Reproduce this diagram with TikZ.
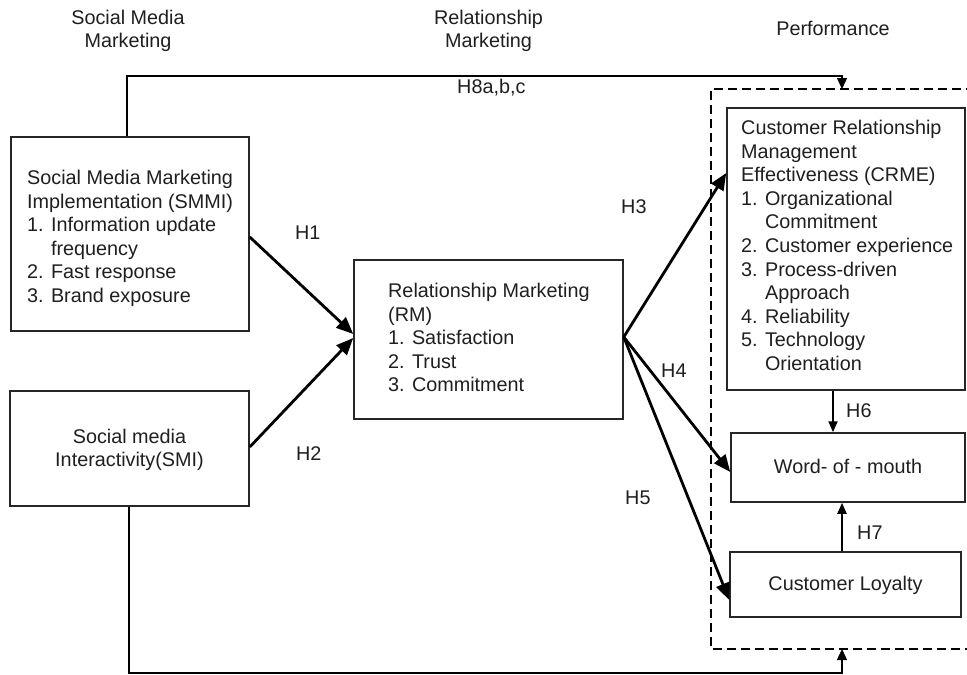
\documentclass[tikz,border=0pt]{standalone}
\usepackage{fontspec}
\setmainfont{Liberation Sans}
\usetikzlibrary{arrows.meta}
\begin{document}
\begin{tikzpicture}[x=1pt,y=-1pt,
  box/.style={draw=black!85,line width=1.5pt,rectangle,inner sep=0pt},
  txt/.style={inner sep=0pt,align=left,text=black!88,font=\fontsize{19.8}{23.6}\selectfont},
  lbl/.style={inner sep=0pt,text=black!88,font=\fontsize{19.8}{23.6}\selectfont},
  big/.style={line width=2.8pt,-{Triangle[length=17pt,width=14pt]}},
  mid/.style={line width=2pt,-{Triangle[length=11pt,width=9pt]}},
  thin/.style={line width=1.4pt},
  thinarr/.style={line width=1.4pt,-{Triangle[length=11pt,width=10pt]}},
  dashbox/.style={line width=2.4pt,dash pattern=on 9pt off 5pt}
]
\useasboundingbox (0,0) rectangle (967,675);
\fill[white] (0,0) rectangle (967,675);

% boxes
\node[box,minimum width=238pt,minimum height=194pt] (smmi) at (130,234) {};
\node[box,minimum width=239pt,minimum height=115pt] (smi) at (129.5,448.5) {};
\node[box,minimum width=269pt,minimum height=159pt] (rm) at (488.5,339.5) {};
\node[box,minimum width=238pt,minimum height=282pt] (crme) at (846,249) {};
\node[box,minimum width=234pt,minimum height=69pt] (wom) at (848,467.5) {};
\node[box,minimum width=231pt,minimum height=65pt] (cl) at (845.5,584.5) {};

% box texts
\node[txt,anchor=north west] (smmit) at (27,170) {Social Media Marketing\\Implementation (SMMI)\\1. Information update\\\phantom{1. }frequency\\2. Fast response\\3. Brand exposure};
\node[txt,align=center] (smit) at (129.5,450) {Social media\\Interactivity(SMI)};
\node[txt,anchor=north west] (rmt) at (388,283) {Relationship Marketing\\(RM)\\1. Satisfaction\\2. Trust\\3. Commitment};
\node[txt,anchor=north west] (crmet) at (741,120) {Customer Relationship\\Management\\Effectiveness (CRME)\\1. Organizational\\\phantom{1. }Commitment\\2. Customer experience\\3. Process-driven\\\phantom{3. }Approach\\4. Reliability\\5. Technology\\\phantom{5. }Orientation};
\node[lbl,anchor=base] (womt) at (848,473) {Word- of - mouth};
\node[lbl,anchor=base] (clt) at (845.5,590) {Customer Loyalty};

% headings
\node[txt,align=center] (h1t) at (128,31) {Social Media\\Marketing};
\node[txt,align=center] (h2t) at (488.5,31) {Relationship\\Marketing};
\node[lbl,anchor=base] (h3t) at (833,35) {Performance};

% dashed performance frame
\coordinate (dtop) at (842,89);
\coordinate (dbot) at (842,649);
\draw[dashbox] (975,89) -- (711,89) -- (711,649) -- (975,649);

% hypotheses arrows
\coordinate (rmout) at ([yshift=2.5pt]rm.east);
\draw[big] ([yshift=-3pt]smmi.east) -- ([yshift=5.5pt]rm.west);
\draw[big] ([yshift=1.5pt]smi.east) -- ([yshift=1.5pt]rm.west);
\draw[big] (rmout) -- ([yshift=76pt]crme.west);
\draw[big] (rmout) -- ([yshift=-4.5pt]wom.west);
\draw[big] (rmout) -- ([yshift=-15.5pt]cl.west);
\draw[mid] ([xshift=-13pt]crme.south) -- ([xshift=-13pt]crme.south |- wom.north);
\draw[mid] ([xshift=-3.5pt]cl.north) -- ([xshift=-3.5pt]cl.north |- wom.south);
\draw[thinarr] ([xshift=-3pt]smmi.north) |- ([yshift=13pt]dtop) -- (dtop);
\draw[thinarr] ([xshift=-0.5pt]smi.south) |- ([yshift=-24pt]dbot) -- (dbot);

% labels
\node[lbl,anchor=base west] (l8) at (457,93) {H8a,b,c};
\node[lbl,anchor=base west] (l1) at (295,239) {H1};
\node[lbl,anchor=base west] (l2) at (296,460) {H2};
\node[lbl,anchor=base west] (l3) at (621,213) {H3};
\node[lbl,anchor=base west] (l4) at (661,377) {H4};
\node[lbl,anchor=base west] (l5) at (625,504) {H5};
\node[lbl,anchor=base west] (l6) at (846,417) {H6};
\node[lbl,anchor=base west] (l7) at (857,539) {H7};
\end{tikzpicture}
\end{document}
